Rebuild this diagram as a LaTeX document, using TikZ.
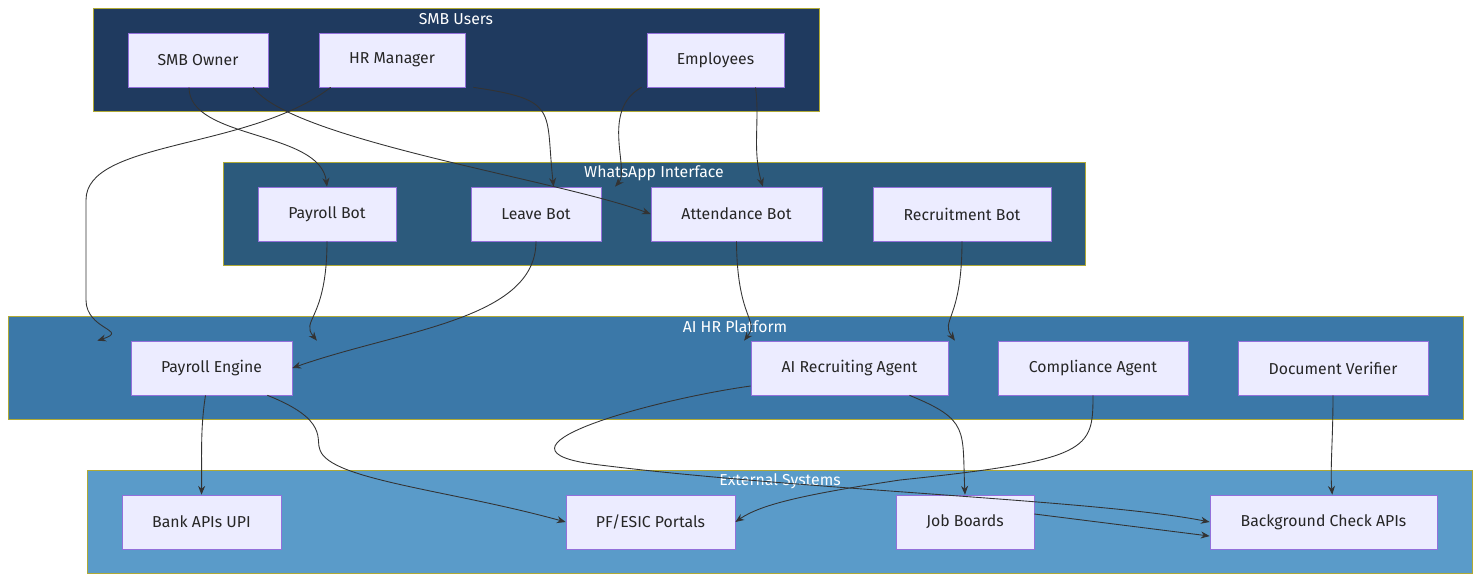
\documentclass[tikz,border=0pt]{standalone}
\usepackage{fontspec}
\setmainfont{Fira Sans}
\usetikzlibrary{arrows.meta}
\definecolor{smbfill}{HTML}{1F3A5F}
\definecolor{wafill}{HTML}{2C5A7C}
\definecolor{aifill}{HTML}{3B78A8}
\definecolor{extfill}{HTML}{5A9BC9}
\definecolor{boxfill}{HTML}{ECECFF}
\definecolor{boxline}{HTML}{9370DB}
\definecolor{edge}{HTML}{333333}
\tikzset{
  box/.style={draw=boxline, fill=boxfill, minimum height=54*0.02cm, inner sep=0pt,
    font=\fontsize{9}{11}\selectfont, text=black!85},
  cluster/.style={draw=olive!70, line width=0.4pt},
  title/.style={text=white, font=\fontsize{9}{11}\selectfont},
  link/.style={draw=edge, line width=0.5pt, -{Stealth[length=5pt,width=4pt]}}
}
\begin{document}
\begin{tikzpicture}[x=0.02cm,y=-0.02cm]
  % Rahmen
  \useasboundingbox (0,0) rectangle (1481,582);

  % Cluster
  \draw[cluster, fill=smbfill] (93,8) rectangle (819,111);
  \node[title] (tUsers) at (456,19) {SMB Users};
  \draw[cluster, fill=wafill] (223,162) rectangle (1085,265);
  \node[title] (tWa) at (654,173) {WhatsApp Interface};
  \draw[cluster, fill=aifill] (8,316) rectangle (1463,419);
  \node[title] (tAi) at (735,327) {AI HR Platform};
  \draw[cluster, fill=extfill] (87,470) rectangle (1472,573);
  \node[title] (tExt) at (780,481) {External Systems};

  % Knoten
  \node[box, minimum width=140*0.02cm] (owner) at (198,60) {SMB Owner};
  \node[box, minimum width=146*0.02cm] (hr) at (392,60) {HR Manager};
  \node[box, minimum width=137*0.02cm] (emp) at (715.5,60) {Employees};

  \node[box, minimum width=138*0.02cm] (payBot) at (327,214) {Payroll Bot};
  \node[box, minimum width=130*0.02cm] (leaveBot) at (536,214) {Leave Bot};
  \node[box, minimum width=171*0.02cm] (attBot) at (736.5,214) {Attendance Bot};
  \node[box, minimum width=178*0.02cm] (recBot) at (962,214) {Recruitment Bot};

  \node[box, minimum width=161*0.02cm] (payEng) at (211.5,368) {Payroll Engine};
  \node[box, minimum width=197*0.02cm] (recAgent) at (849.5,368) {AI Recruiting Agent};
  \node[box, minimum width=190*0.02cm] (compAgent) at (1093,368) {Compliance Agent};
  \node[box, minimum width=190*0.02cm] (docVer) at (1333,368) {Document Verifier};

  \node[box, minimum width=159*0.02cm] (bank) at (201.5,522) {Bank APIs UPI};
  \node[box, minimum width=169*0.02cm] (pf) at (650.5,522) {PF/ESIC Portals};
  \node[box, minimum width=138*0.02cm] (jobs) at (965,522) {Job Boards};
  \node[box, minimum width=227*0.02cm] (bgc) at (1323.5,522) {Background Check APIs};

  % Verbindungen
  \draw[link] (owner.south) ++(-9,0) .. controls (189,140) and (320,130) .. (payBot.north);
  \draw[link] (owner.south east) ++(-15,0) .. controls (290,140) and (560,180) .. (attBot.west);
  \draw[link] (hr.south west) ++(12,0) .. controls (250,150) and (86,140) .. (86,200)
    -- (86,300) .. controls (86,330) and (130,330) .. ([xshift=-65]payEng.north);
  \draw[link] (hr.south east) ++(8,0) .. controls (560,100) and (545,110) .. ([xshift=10]leaveBot.north);
  \draw[link] (emp.south west) ++(-5,0) .. controls (600,110) and (630,170) .. ([xshift=45]leaveBot.north);
  \draw[link] (emp.south) ++(40,0) .. controls (760,120) and (752,150) .. ([xshift=15]attBot.north);

  \draw[link] (payBot.south) .. controls (327,320) and (300,320) .. ([xshift=60]payEng.north);
  \draw[link] (leaveBot.south) .. controls (536,320) and (400,330) .. (payEng.east);
  \draw[link] (attBot.south) .. controls (737,320) and (760,320) .. ([xshift=-60]recAgent.north);
  \draw[link] (recBot.south) .. controls (962,320) and (940,320) .. ([xshift=60]recAgent.north);

  \draw[link] (payEng.south) ++(-6,0) .. controls (200,430) and (202,460) .. (bank.north);
  \draw[link] (payEng.south east) ++(-25,0) .. controls (330,420) and (315,440) .. (320,450)
    .. controls (330,480) and (450,490) .. (pf.west);
  \draw[link] (recAgent.south) ++(60,0) .. controls (970,420) and (962,430) .. (jobs.north);
  \draw[link] (recAgent.west) ++(0,18) .. controls (650,400) and (470,450) .. (600,465)
    .. controls (800,490) and (1100,500) .. (bgc.west);
  \draw[link] (compAgent.south) .. controls (1093,450) and (1090,460) .. (900,480)
    .. controls (800,495) and (760,505) .. (pf.east);
  \draw[link] (docVer.south) .. controls (1333,440) and (1330,470) .. ([xshift=5]bgc.north);
  \draw[link] (jobs.east) ++(0,-8) -- ([yshift=-8]bgc.west);
\end{tikzpicture}
\end{document}
